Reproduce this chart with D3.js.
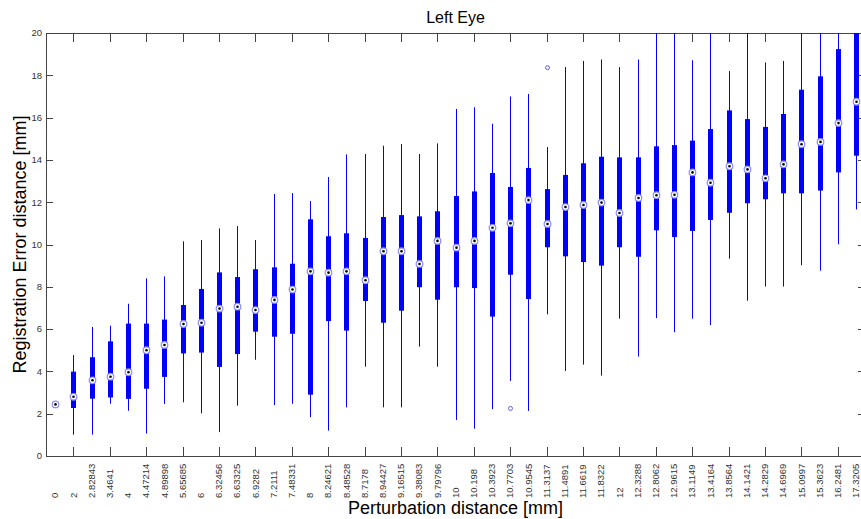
<!DOCTYPE html>
<html>
<head>
<meta charset="utf-8">
<script src="https://cdn.jsdelivr.net/npm/d3@7.9.0/dist/d3.min.js"></script>
<style>
body{margin:0;background:#fff;}
text{font-family:"Liberation Sans",Arial,sans-serif;}
</style>
</head>
<body>
<svg id="chart" width="861" height="519"></svg>
<script>
// perturbation distances (one box per category)
const categories=["0","2","2.82843","3.4641","4","4.47214","4.89898","5.65685","6","6.32456","6.63325","6.9282","7.2111","7.48331","8","8.24621","8.48528","8.7178","8.94427","9.16515","9.38083","9.79796","10","10.198","10.3923","10.7703","10.9545","11.3137","11.4891","11.6619","11.8322","12","12.3288","12.8062","12.9615","13.1149","13.4164","13.8564","14.1421","14.2829","14.6969","15.0997","15.3623","16.2481","17.3205"];
const whiskLow=[2.44,1.01,1.01,2.47,2.14,1.06,2.46,2.54,2.02,1.13,2.38,4.55,2.41,2.47,1.84,1.20,2.30,4.22,2.30,2.30,5.17,4.22,1.70,1.29,2.22,3.55,2.13,6.70,4.02,4.32,3.80,6.49,4.70,6.52,5.85,6.49,6.19,9.33,7.34,8.01,8.01,9.02,8.76,10.01,11.66];
const q1=[2.44,2.27,2.71,2.77,2.70,3.18,3.74,4.85,4.89,4.21,4.82,5.88,5.64,5.78,2.90,6.38,5.93,7.33,6.30,6.87,7.98,7.39,7.98,7.94,6.59,8.57,7.42,9.87,9.44,9.17,9.00,9.87,9.42,10.67,10.35,10.64,11.16,11.50,11.95,12.14,12.42,12.42,12.55,13.41,14.20];
const medians=[2.44,2.80,3.58,3.75,3.96,5.00,5.25,6.24,6.30,6.97,7.06,6.90,7.38,7.87,8.73,8.67,8.73,8.31,9.68,9.68,9.08,10.17,9.85,10.17,10.79,11.00,12.10,10.97,11.77,11.87,11.98,11.49,12.20,12.33,12.35,13.41,12.92,13.70,13.55,13.13,13.79,14.74,14.85,15.74,16.75];
const q3=[2.44,3.99,4.67,5.42,6.26,6.26,6.45,7.14,7.90,8.68,8.46,8.83,8.92,9.09,11.19,10.39,10.53,10.31,11.30,11.39,11.33,11.57,12.29,12.51,13.38,12.72,13.62,12.62,13.29,13.84,14.15,14.12,14.12,14.64,14.70,14.91,15.46,16.34,15.93,15.56,16.17,17.32,17.95,19.24,21.0];
const whiskHigh=[2.44,4.77,6.10,6.16,7.20,8.40,8.49,10.15,10.21,10.76,10.87,10.21,12.39,12.43,12.06,13.19,14.26,14.28,14.67,14.75,14.28,14.78,16.41,16.49,15.71,17.00,17.12,14.61,18.39,18.68,18.75,18.39,18.75,21.0,21.2,18.71,21.5,18.20,21.3,18.61,18.68,21.8,22.0,22.5,23.0];
const outlierIdx=[25,27];
const outlierVal=[2.25,18.36];
const yTicks=[0,2,4,6,8,10,12,14,16,18,20];
const xTicks=d3.range(2,45,2);

const svg=d3.select('#chart');
const L=46,T=33,R=865,B=456;
const x=d3.scaleLinear().domain([0.5,45.5]).range([L,R]);
const y=d3.scaleLinear().domain([0,20]).range([B,T]);
const blue='#0000ff',axisCol='#444',txt='#333';
const px=v=>Math.round(x(v))+.5;

svg.append('rect').attr('width',861).attr('height',519).attr('fill','#fff');
svg.append('defs').append('clipPath').attr('id','clip').append('rect')
  .attr('x',L).attr('y',T).attr('width',R-L).attr('height',B-T);

// axes frame + ticks
const ax=svg.append('g');
ax.append('rect').attr('x',L+.5).attr('y',T+.5).attr('width',R-L).attr('height',B-T)
  .attr('fill','none').attr('stroke',axisCol);
ax.selectAll('.yt').data(yTicks).enter().append('path')
  .attr('d',d=>`M${L},${Math.round(y(d))+.5}h7M${R},${Math.round(y(d))+.5}h-7`)
  .attr('stroke',axisCol);
ax.selectAll('.ytl').data(yTicks).enter().append('text')
  .attr('x',L-4).attr('y',d=>y(d)).attr('dy','0.35em').attr('text-anchor','end')
  .attr('font-size',9.5).attr('fill',txt).text(d=>d);
ax.selectAll('.xt').data(xTicks).enter().append('path')
  .attr('d',d=>`M${px(d)},${B}v-9M${px(d)},${T}v9`)
  .attr('stroke',axisCol);
ax.selectAll('.xtl').data(categories).enter().append('text')
  .attr('transform',(d,i)=>`translate(${x(i+1)},498) rotate(-90)`)
  .attr('dy','0.35em').attr('font-size',9.5).attr('fill',txt).text(d=>d);

// boxes
const g=svg.append('g').attr('clip-path','url(#clip)');
const boxes=categories.map((c,i)=>({i,lo:whiskLow[i],q1:q1[i],med:medians[i],q3:q3[i],hi:whiskHigh[i]}));
g.selectAll('.wh').data(boxes.filter(d=>d.hi>d.lo)).enter().append('line')
  .attr('x1',d=>px(d.i+1)).attr('x2',d=>px(d.i+1))
  .attr('y1',d=>y(d.lo)).attr('y2',d=>y(d.hi)).attr('stroke',blue).attr('stroke-width',1);
g.selectAll('.bx').data(boxes.filter(d=>d.q3>d.q1)).enter().append('rect')
  .attr('x',d=>px(d.i+1)-2.5).attr('width',5)
  .attr('y',d=>y(d.q3)).attr('height',d=>y(d.q1)-y(d.q3)).attr('fill',blue);
g.selectAll('.md').data(boxes).enter().append('circle')
  .attr('cx',d=>px(d.i+1)).attr('cy',d=>y(d.med)).attr('r',3.3)
  .attr('fill','#fff').attr('stroke','#8c8cff').attr('stroke-width',1.2);
g.selectAll('.mdd').data(boxes).enter().append('circle')
  .attr('cx',d=>px(d.i+1)).attr('cy',d=>y(d.med)).attr('r',1.3).attr('fill','#000');
g.selectAll('.out').data(outlierIdx).enter().append('circle')
  .attr('cx',d=>px(d+1)).attr('cy',(d,k)=>y(outlierVal[k])).attr('r',2)
  .attr('fill','none').attr('stroke','#5c5cff').attr('stroke-width',1);

// titles
svg.append('text').attr('x',(L+R)/2).attr('y',23).attr('text-anchor','middle')
  .attr('font-size',16).attr('fill','#000').text('Left Eye');
svg.append('text').attr('x',(L+R)/2).attr('y',514).attr('text-anchor','middle')
  .attr('font-size',18).attr('fill','#000').text('Perturbation distance [mm]');
svg.append('text').attr('transform',`translate(26,${(T+B)/2}) rotate(-90)`)
  .attr('text-anchor','middle').attr('font-size',18).attr('fill','#000')
  .text('Registration Error distance [mm]');
</script>
</body>
</html>
